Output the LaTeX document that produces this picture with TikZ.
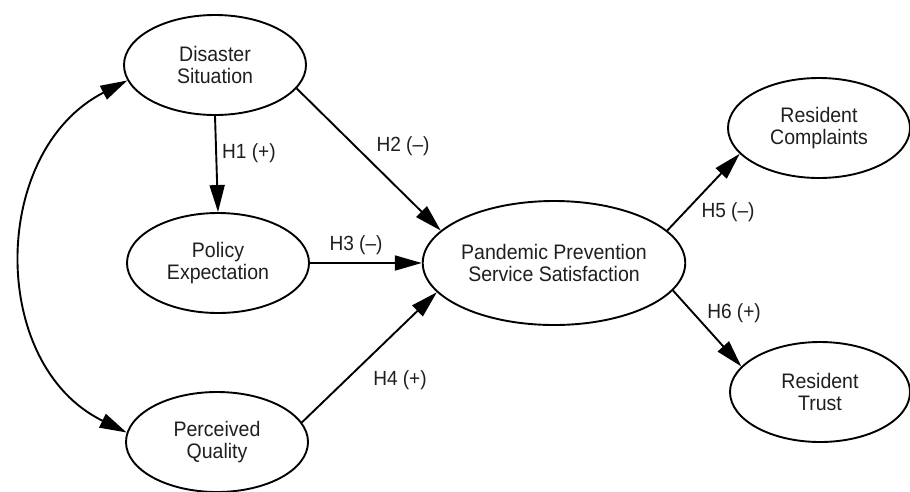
\documentclass[tikz,border=0pt]{standalone}
\usepackage{fontspec}
\setmainfont[FakeStretch=0.93]{Liberation Sans}
\usetikzlibrary{shapes.geometric,arrows.meta}
\begin{document}
\begin{tikzpicture}[x=1pt,y=1pt,
  construct/.style={draw=black, line width=1.9pt, ellipse, inner sep=0pt,
    minimum width=182pt, minimum height=100pt, align=center,
    font=\fontsize{21}{22}\selectfont, text=black!88},
  tip/.style={},
  arr/.style={line width=1.9pt, -{Triangle[length=27pt,width=15pt]}},
  darr/.style={line width=1.9pt, {Triangle[length=27pt,width=15pt]}-{Triangle[length=27pt,width=15pt]}},
  lbl/.style={font=\fontsize{20.5}{22}\selectfont, inner sep=0pt, text=black!88}]
\useasboundingbox[fill=white] (0,0) rectangle (910,-491);
\node[construct] (ds) at (215,-65) {Disaster\\Situation};
\node[construct] (pe) at (218,-263) {Policy\\Expectation};
\node[construct] (pq) at (217,-442) {Perceived\\Quality};
\node[construct, minimum width=234pt, minimum height=124pt] (pp) at (554,-263) {Pandemic Prevention\\Service Satisfaction};
\node[construct] (rc) at (819,-128) {Resident\\Complaints};
\node[construct, minimum width=180pt] (rt) at (820,-392) {Resident\\Trust};

\draw[arr] (ds.south) -- (pe.north);
\draw[arr] (ds.-16) -- (pp.164);
\draw[arr] (pe) -- (pp);
\draw[arr] (pq.13) -- (pp.194);
\draw[arr] (pp.16) -- (rc.198);
\draw[arr] (pp.-13) -- (rt.162);
\draw[darr] (ds.190) to[out=207,in=154,looseness=1.12] (pq.174);

\node[lbl, anchor=west] (l1) at (222,-153) {H1 (+)};
\node[lbl] (l2) at (403,-146) {H2 (–)};
\node[lbl] (l3) at (356,-245) {H3 (–)};
\node[lbl] (l4) at (400,-380) {H4 (+)};
\node[lbl] (l5) at (728,-212) {H5 (–)};
\node[lbl] (l6) at (734,-313) {H6 (+)};
\end{tikzpicture}
\end{document}
